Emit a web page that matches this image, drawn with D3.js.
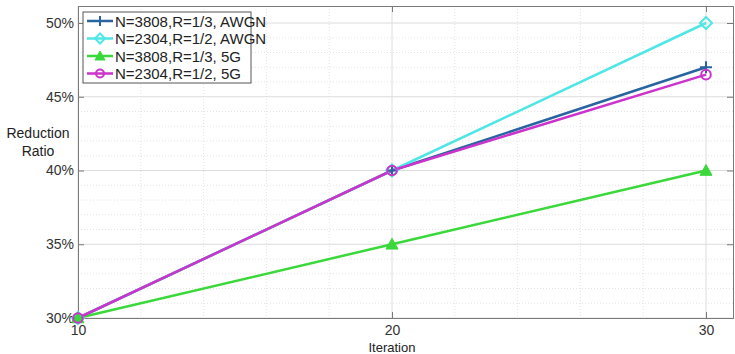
<!DOCTYPE html>
<html>
<head>
<meta charset="utf-8">
<script src="https://cdn.jsdelivr.net/npm/d3@7"></script>
<style>
  body { margin: 0; background: #fff; }
  text { font-family: "Liberation Sans", Arial, sans-serif; }
</style>
</head>
<body>
<div id="viz-container"></div>
<script>
// data
const iterations = [10, 20, 30];
const seriesNames = [
    "N=3808,R=1/3, AWGN",
    "N=2304,R=1/2, AWGN",
    "N=3808,R=1/3, 5G",
    "N=2304,R=1/2, 5G"
];
const ratioAwgn3808 = [30, 40, 47];
const ratioAwgn2304 = [30, 40, 50];
const ratio5g3808 = [30, 35, 40];
const ratio5g2304 = [30, 40, 46.5];
const xTicks = [10, 20, 30];
const yTicks = [30, 35, 40, 45, 50];

const series = [
    { name: seriesNames[0], values: ratioAwgn3808, color: "#2a64a0", marker: "plus" },
    { name: seriesNames[1], values: ratioAwgn2304, color: "#4fe6e6", marker: "diamond" },
    { name: seriesNames[2], values: ratio5g3808, color: "#3ad83a", marker: "triangle" },
    { name: seriesNames[3], values: ratio5g2304, color: "#cc33cc", marker: "circle" }
];

const W = 735, H = 354;
const margin = { top: 6, right: 2, bottom: 36, left: 78 };
const width = W - margin.left - margin.right,
    height = H - margin.top - margin.bottom;

const svg = d3.select("#viz-container")
    .append("svg")
    .attr("width", W)
    .attr("height", H);

const chart = svg.append("g")
    .attr("transform", `translate(${margin.left},${margin.top})`);

// Scales
const x = d3.scaleLinear().domain([10, 30 + 27 / 31.4]).range([0, width]);
const y = d3.scaleLinear().domain([30, 50 + 17 / 73.75 * 5]).range([height, 0]);

// Minor grid (dotted)
chart.append("g")
    .selectAll("line")
    .data(d3.range(12, 31, 2).filter(v => !xTicks.includes(v)))
    .enter().append("line")
    .attr("x1", d => x(d)).attr("x2", d => x(d))
    .attr("y1", 0).attr("y2", height)
    .attr("stroke", "#e4e4e4")
    .attr("stroke-dasharray", "1,2");
chart.append("g")
    .selectAll("line")
    .data(d3.range(31, 51, 1).filter(v => !yTicks.includes(v)))
    .enter().append("line")
    .attr("x1", 0).attr("x2", width)
    .attr("y1", d => y(d)).attr("y2", d => y(d))
    .attr("stroke", "#e4e4e4")
    .attr("stroke-dasharray", "1,2");

// Major grid
chart.append("g")
    .selectAll("line")
    .data(xTicks)
    .enter().append("line")
    .attr("x1", d => x(d)).attr("x2", d => x(d))
    .attr("y1", 0).attr("y2", height)
    .attr("stroke", "#dcdcdc");
chart.append("g")
    .selectAll("line")
    .data(yTicks)
    .enter().append("line")
    .attr("x1", 0).attr("x2", width)
    .attr("y1", d => y(d)).attr("y2", d => y(d))
    .attr("stroke", "#dcdcdc");

// Axes
chart.append("g")
    .attr("transform", `translate(0,${height})`)
    .call(d3.axisBottom(x).tickValues(xTicks).tickSize(-6).tickPadding(7));
chart.append("g")
    .call(d3.axisLeft(y).tickValues(yTicks).tickSize(-6).tickPadding(4).tickFormat(d => d + "%"));
chart.append("g")
    .call(d3.axisTop(x).tickValues(xTicks).tickSize(-6).tickFormat(""));
chart.append("g")
    .attr("transform", `translate(${width},0)`)
    .call(d3.axisRight(y).tickValues(yTicks).tickSize(-6).tickFormat(""));

chart.selectAll(".domain, .tick line").attr("stroke", "#7a7a7a");
chart.selectAll(".tick text")
    .attr("fill", "#333")
    .attr("font-size", "14px")
    .style("font-family", "'Liberation Sans', Arial, sans-serif");

// Axis labels
svg.append("text")
    .attr("x", margin.left + x(20))
    .attr("y", 352)
    .attr("text-anchor", "middle")
    .attr("font-size", "13px")
    .attr("fill", "#222")
    .text("Iteration");

const yLab = svg.append("text")
    .attr("text-anchor", "middle")
    .attr("font-size", "14px")
    .attr("fill", "#222");
yLab.append("tspan").attr("x", 38).attr("y", 138).text("Reduction");
yLab.append("tspan").attr("x", 38).attr("y", 156).text("Ratio");

// Lines
const line = d3.line()
    .x((d, i) => x(iterations[i]))
    .y(d => y(d));

function drawMarker(g, type, color, size) {
    if (type === "plus") {
        g.append("path")
            .attr("d", `M${-size},0H${size}M0,${-size}V${size}`)
            .attr("stroke", color).attr("stroke-width", 2).attr("fill", "none");
    } else if (type === "diamond") {
        g.append("path")
            .attr("d", `M0,${-size}L${size},0L0,${size}L${-size},0Z`)
            .attr("stroke", color).attr("stroke-width", 2).attr("fill", "none");
    } else if (type === "triangle") {
        g.append("path")
            .attr("d", `M0,${-size}L${size},${size * 0.8}L${-size},${size * 0.8}Z`)
            .attr("fill", color).attr("stroke", color);
    } else {
        g.append("circle")
            .attr("r", size * 0.8)
            .attr("stroke", color).attr("stroke-width", 2).attr("fill", "none");
    }
}

series.forEach(s => {
    chart.append("path")
        .datum(s.values)
        .attr("d", line)
        .attr("fill", "none")
        .attr("stroke", s.color)
        .attr("stroke-width", 2.5);
});
series.forEach(s => {
    s.values.forEach((v, i) => {
        const g = chart.append("g")
            .attr("transform", `translate(${x(iterations[i])},${y(v)})`);
        drawMarker(g, s.marker, s.color, 6);
    });
});

// Legend
const legend = svg.append("g")
    .attr("transform", "translate(83,12)");
legend.append("rect")
    .attr("width", 168)
    .attr("height", 71)
    .attr("fill", "#fff")
    .attr("stroke", "#555");
series.forEach((s, i) => {
    const ly = 9 + i * 17.5;
    legend.append("line")
        .attr("x1", 4).attr("x2", 30)
        .attr("y1", ly).attr("y2", ly)
        .attr("stroke", s.color).attr("stroke-width", 2.5);
    drawMarker(legend.append("g").attr("transform", `translate(17,${ly})`), s.marker, s.color, 5);
    legend.append("text")
        .attr("x", 32)
        .attr("y", ly + 5.5)
        .attr("font-size", "15px")
        .attr("fill", "#222")
        .text(s.name);
});
</script>
</body>
</html>
